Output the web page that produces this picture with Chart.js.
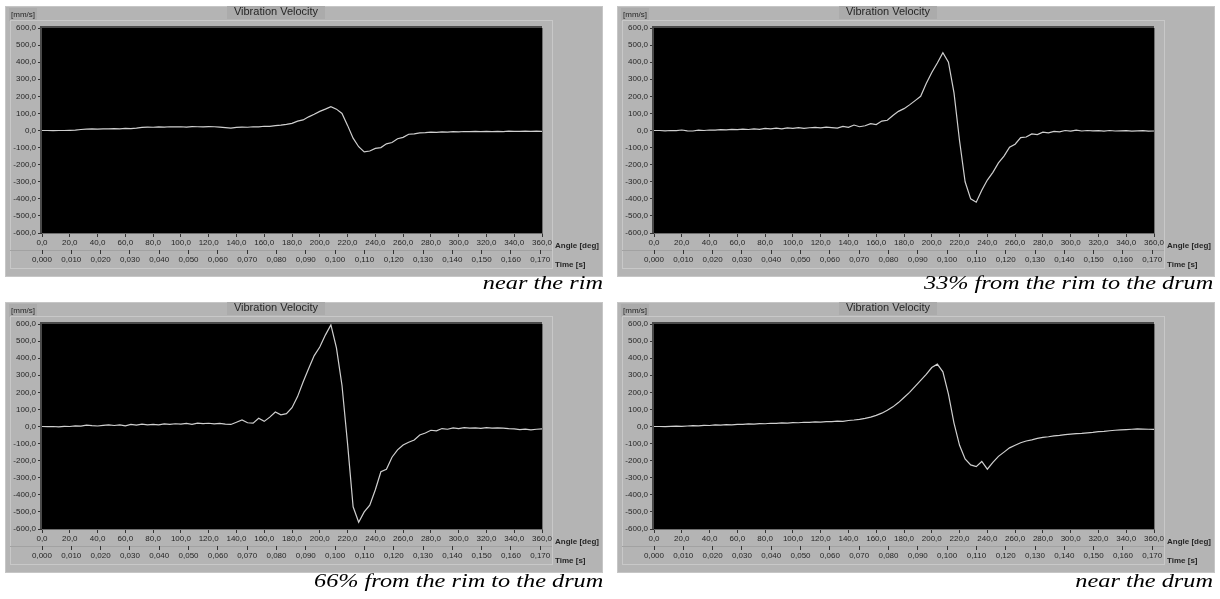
<!DOCTYPE html>
<html>
<head>
<meta charset="utf-8">
<title>Vibration Velocity</title>
<script src="https://cdn.jsdelivr.net/npm/chart.js@4.4.1/dist/chart.umd.min.js"></script>
<style>
    body{
        margin:0;
        width:1220px;
        height:599px;
        background:#fff;
        position:relative;
        overflow:hidden;
    }
    .panel{
        position:absolute;
        width:598px;
        height:271px;
    }
    .caption{
        position:absolute;
        font:italic 18px "Liberation Serif","Times New Roman",serif;
        line-height:18px;
        color:#000;
        white-space:nowrap;
        transform:scaleX(1.35);
        transform-origin:right top;
    }
</style>
</head>
<body>

<div class="panel" style="left:5px;top:6px"><canvas id="rimChart" width="598" height="271"></canvas></div>
<div class="panel" style="left:617px;top:6px"><canvas id="thirdChart" width="598" height="271"></canvas></div>
<div class="panel" style="left:5px;top:302px"><canvas id="twoThirdsChart" width="598" height="271"></canvas></div>
<div class="panel" style="left:617px;top:302px"><canvas id="drumChart" width="598" height="271"></canvas></div>

<div class="caption" style="right:617px;top:274px">near the rim</div>
<div class="caption" style="right:7px;top:274px">33% from the rim to the drum</div>
<div class="caption" style="right:617px;top:572px">66% from the rim to the drum</div>
<div class="caption" style="right:7px;top:572px">near the drum</div>

<script>
/* ==========================================
   DATA
========================================== */

const ANGLES = [
    0,4,8,12,16,20,24,28,32,36,
    40,44,48,52,56,60,64,68,72,76,
    80,84,88,92,96,100,104,108,112,116,
    120,124,128,132,136,140,144,148,152,156,
    160,164,168,172,176,180,184,188,192,196,
    200,204,208,212,216,220,224,228,232,236,
    240,244,248,252,256,260,264,268,272,276,
    280,284,288,292,296,300,304,308,312,316,
    320,324,328,332,336,340,344,348,352,356,
    360
];

// velocity [mm/s] near the rim
const RIM_VALUES = [
    0,0,-1,0,0,1,2,6,8,9,
    8,10,9,11,10,12,11,14,18,20,
    19,21,20,22,21,22,20,23,22,21,
    23,22,20,17,14,18,20,19,22,21,
    25,24,28,31,36,42,55,62,80,95,
    112,125,140,125,100,30,-45,-95,-125,-120,
    -105,-100,-78,-70,-48,-40,-22,-20,-14,-13,
    -10,-11,-8,-9,-7,-8,-6,-7,-5,-6,
    -5,-6,-5,-6,-4,-5,-5,-4,-5,-4,
    -5
];

// velocity [mm/s] at 33% from the rim to the drum
const THIRD_VALUES = [
    0,0,-2,0,-1,3,-2,-3,2,0,
    3,2,5,4,6,5,8,6,9,7,
    12,10,14,9,15,13,17,12,16,18,
    15,20,17,14,24,18,32,22,28,40,
    35,55,60,88,112,128,150,175,200,275,
    340,395,455,400,220,-60,-300,-400,-420,-350,
    -290,-245,-190,-150,-98,-80,-42,-38,-20,-24,
    -10,-14,-5,-8,0,-4,2,-3,0,-2,
    -1,-4,0,-3,-2,-1,-4,-2,-1,-4,
    -3
];

// velocity [mm/s] at 66% from the rim to the drum
const TWO_THIRDS_VALUES = [
    0,-1,0,-2,1,0,4,2,8,5,
    3,7,10,6,9,4,12,8,14,10,
    12,9,15,12,16,14,18,13,20,17,
    19,15,18,14,12,25,38,22,20,48,
    30,55,85,68,75,110,175,260,340,415,
    465,535,595,460,240,-100,-470,-560,-500,-460,
    -370,-265,-250,-180,-137,-108,-92,-79,-50,-38,
    -22,-25,-12,-16,-8,-12,-7,-10,-8,-11,
    -7,-10,-8,-9,-12,-14,-18,-15,-20,-16,
    -14
];

// velocity [mm/s] near the drum
const DRUM_VALUES = [
    0,0,-1,1,2,1,3,5,4,7,
    6,9,8,11,10,13,12,15,14,17,
    16,19,18,21,20,23,22,25,24,27,
    26,29,28,31,30,35,38,42,48,55,
    65,78,95,115,140,170,200,235,270,305,
    345,365,320,190,20,-110,-190,-225,-235,-205,
    -250,-210,-175,-150,-125,-110,-95,-85,-78,-70,
    -64,-60,-55,-52,-48,-45,-42,-40,-37,-34,
    -30,-28,-25,-22,-20,-18,-16,-14,-15,-16,
    -17
];

const ANGLE_TICKS = [0,20,40,60,80,100,120,140,160,180,200,220,240,260,280,300,320,340,360];

const TIME_TICKS = [0,0.01,0.02,0.03,0.04,0.05,0.06,0.07,0.08,0.09,0.10,0.11,0.12,0.13,0.14,0.15,0.16,0.17];

const VELOCITY_TICKS = [600,500,400,300,200,100,0,-100,-200,-300,-400,-500,-600];

// one revolution (360 deg) takes this long
const TIME_SPAN = 0.1706;


/* ==========================================
   STYLE
========================================== */

const PANEL_GRAY = "#b4b4b4";
const TEXT_DARK = "#262626";
const TRACE_COLOR = "#cfcfcf";
const TICK_FONT = { family:"Liberation Sans", size:8 };


/* ==========================================
   HELPERS
========================================== */

function commaFixed(value, digits){

    return Number(value).toFixed(digits).replace(".", ",");

}

function fixedTicks(list){

    return scale=>{

        scale.ticks = list.map(value=>({ value }));

    };

}


/* ==========================================
   PANEL FRAME PLUGIN
========================================== */

const panelFrame = {

    id:"panelFrame",

    beforeDraw(chart){

        const { ctx, width, height, chartArea:a } = chart;

        ctx.save();

        // panel body with a light rim
        ctx.fillStyle = PANEL_GRAY;
        ctx.fillRect(0, 0, width, height);

        ctx.strokeStyle = "#c6c6c6";
        ctx.lineWidth = 1;
        ctx.strokeRect(0.5, 0.5, width - 1, height - 1);

        // label boxes
        ctx.fillStyle = "#ababab";
        ctx.fillRect(4, 2, 28, 13);
        ctx.fillRect(222, 0, 98, 13);

        // graph frame
        ctx.strokeStyle = "#c8c8c8";
        ctx.strokeRect(5.5, 14.5, 542, 248);

        ctx.strokeStyle = "#a2a2a2";
        ctx.beginPath();
        ctx.moveTo(5, 244.5);
        ctx.lineTo(547, 244.5);
        ctx.stroke();

        // plot background
        ctx.fillStyle = "#000";
        ctx.fillRect(a.left, a.top, a.width, a.height);

        // texts
        ctx.fillStyle = TEXT_DARK;
        ctx.textBaseline = "middle";

        ctx.font = "8px 'Liberation Sans'";
        ctx.textAlign = "left";
        ctx.fillText("[mm/s]", 6, 9);

        ctx.font = "11px 'Liberation Sans'";
        ctx.textAlign = "center";
        ctx.fillText("Vibration Velocity", 271, 6);

        ctx.font = "bold 8px 'Liberation Sans'";
        ctx.textAlign = "left";
        ctx.fillText("Angle [deg]", 550, 240);
        ctx.fillText("Time [s]", 550, 259);

        ctx.restore();

    },

    afterDatasetsDraw(chart){

        const { ctx, chartArea:a } = chart;

        ctx.save();

        ctx.strokeStyle = "#4a4a4a";
        ctx.lineWidth = 2;
        ctx.beginPath();
        ctx.moveTo(a.left - 1, a.bottom);
        ctx.lineTo(a.left - 1, a.top - 1);
        ctx.lineTo(a.right, a.top - 1);
        ctx.stroke();

        ctx.strokeStyle = "#6e6e6e";
        ctx.lineWidth = 1;
        ctx.beginPath();
        ctx.moveTo(a.right + 0.5, a.top);
        ctx.lineTo(a.right + 0.5, a.bottom + 0.5);
        ctx.lineTo(a.left, a.bottom + 0.5);
        ctx.stroke();

        ctx.restore();

    }

};


/* ==========================================
   VELOCITY CHART
========================================== */

function renderVelocityChart(canvasId, values){

    const ctx = document

        .getElementById(canvasId)

        .getContext("2d");

    const tickStyle = {
        font:TICK_FONT,
        color:TEXT_DARK,
        autoSkip:false,
        maxRotation:0,
        minRotation:0
    };

    const tickGrid = {
        drawOnChartArea:false,
        drawTicks:true,
        tickLength:4,
        color:"#333"
    };

    return new Chart(ctx, {

        type:"line",

        data:{

            datasets:[{

                data:ANGLES.map((angle, i)=>({ x:angle, y:values[i] })),

                borderColor:TRACE_COLOR,

                borderWidth:1.2,

                pointRadius:0,

                tension:0

            }]

        },

        options:{

            responsive:false,

            animation:false,

            events:[],

            layout:{
                padding:{ top:22, right:61, bottom:7, left:0 }
            },

            plugins:{
                legend:{ display:false },
                tooltip:{ enabled:false }
            },

            scales:{

                x:{
                    type:"linear",
                    position:"bottom",
                    weight:0,
                    min:0,
                    max:360,
                    afterBuildTicks:fixedTicks(ANGLE_TICKS),
                    afterFit:scale=>{ scale.height = 17; },
                    grid:tickGrid,
                    border:{ display:false },
                    ticks:{ ...tickStyle, padding:1, callback:v=>commaFixed(v, 1) }
                },

                time:{
                    type:"linear",
                    axis:"x",
                    position:"bottom",
                    weight:1,
                    min:0,
                    max:TIME_SPAN,
                    afterBuildTicks:fixedTicks(TIME_TICKS),
                    afterFit:scale=>{ scale.height = 20; },
                    grid:tickGrid,
                    border:{ display:false },
                    ticks:{ ...tickStyle, padding:1, callback:v=>commaFixed(v, 3) }
                },

                y:{
                    type:"linear",
                    position:"left",
                    min:-600,
                    max:600,
                    afterBuildTicks:fixedTicks(VELOCITY_TICKS),
                    afterFit:scale=>{ scale.width = 37; },
                    grid:tickGrid,
                    border:{ display:false },
                    ticks:{ ...tickStyle, padding:2, callback:v=>commaFixed(v, 1) }
                }

            }

        },

        plugins:[panelFrame]

    });

}


/* ==========================================
   INITIALIZE
========================================== */

renderVelocityChart("rimChart", RIM_VALUES);

renderVelocityChart("thirdChart", THIRD_VALUES);

renderVelocityChart("twoThirdsChart", TWO_THIRDS_VALUES);

renderVelocityChart("drumChart", DRUM_VALUES);
</script>

</body>
</html>
